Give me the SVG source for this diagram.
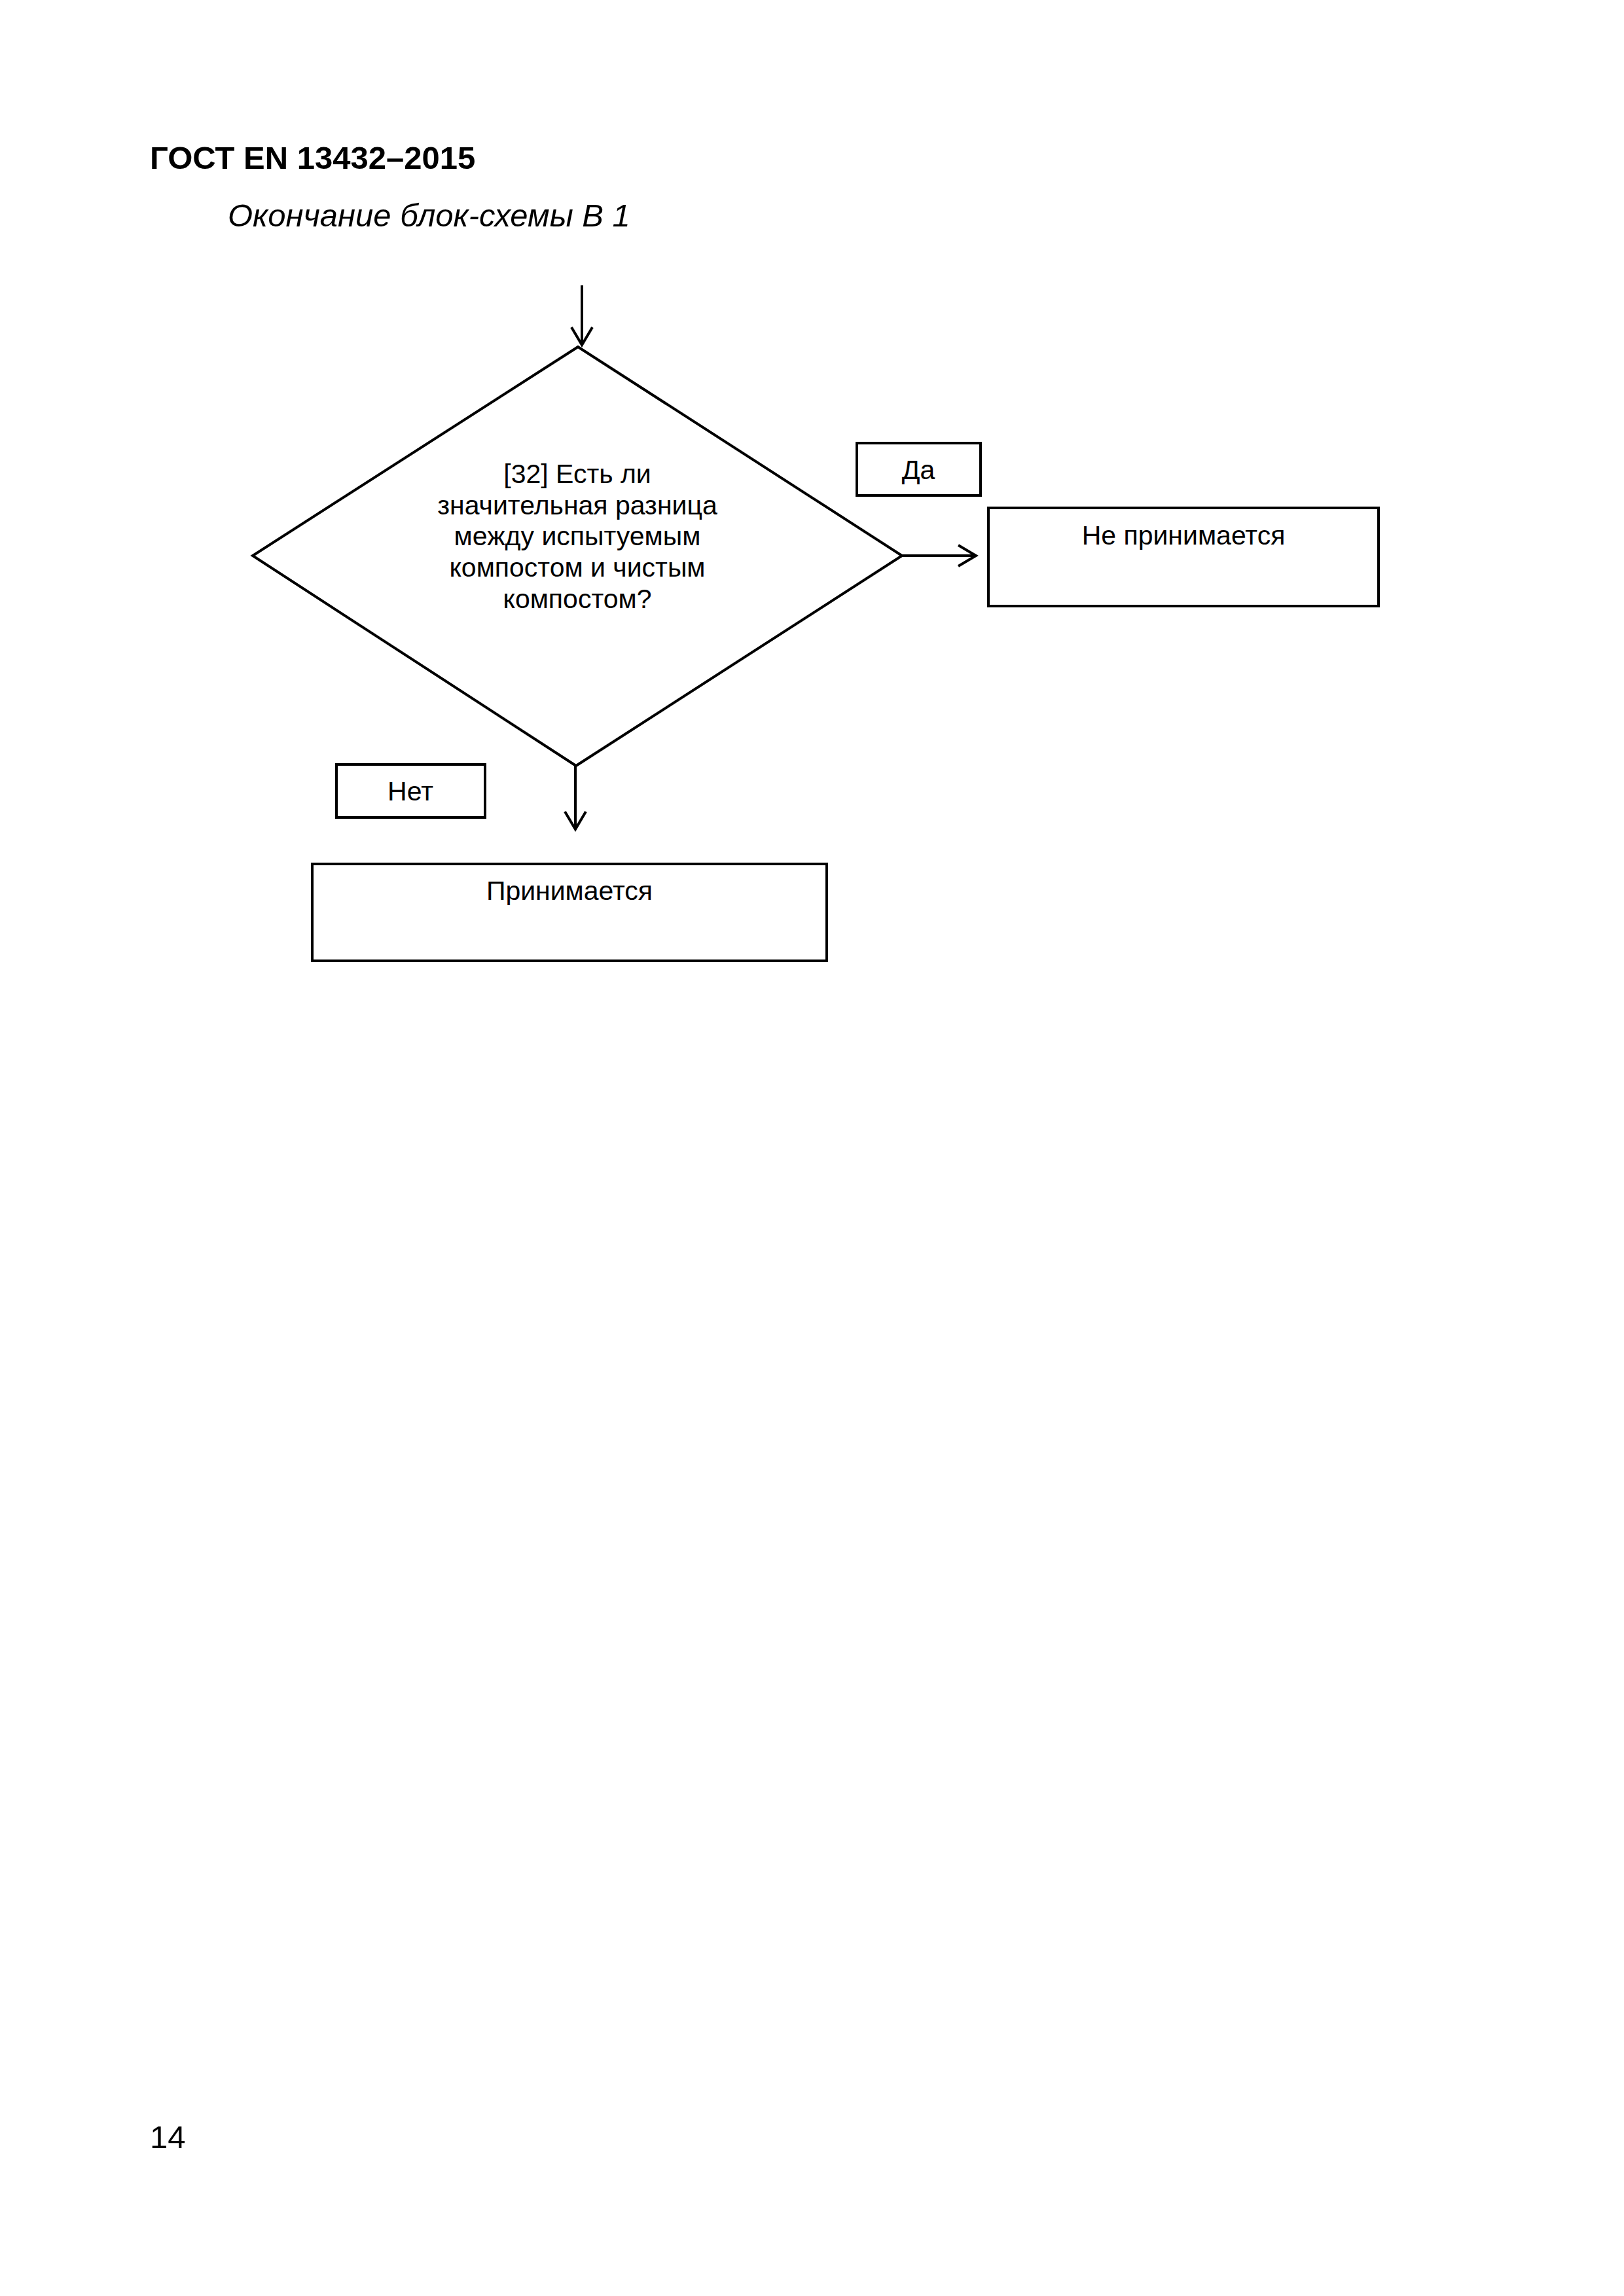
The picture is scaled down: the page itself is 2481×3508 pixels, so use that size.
<svg xmlns="http://www.w3.org/2000/svg" width="2481" height="3508" viewBox="0 0 2481 3508">
<defs>
<style>
.t{font-family:"Liberation Sans",Arial,sans-serif;fill:#000}
.n{font-size:41px;text-anchor:middle}
.box{fill:#fff;stroke:#000;stroke-width:4}
.dia{fill:#fff;stroke:#000;stroke-width:4;stroke-linejoin:miter}
.edge{fill:none;stroke:#000;stroke-width:4}
</style>
<marker id="arr" markerUnits="userSpaceOnUse" viewBox="0 0 30 34" refX="28" refY="17" markerWidth="30" markerHeight="34" orient="auto" overflow="visible">
<path d="M1,1 L28,17 L1,33" fill="none" stroke="#000" stroke-width="4"/>
</marker>
</defs>
<rect width="2481" height="3508" fill="#fff"/>
<text class="t" x="229" y="258" font-size="49" font-weight="bold">ГОСТ EN 13432–2015</text>
<text class="t" x="348" y="346" font-size="49" font-style="italic">Окончание блок-схемы В 1</text>

<g id="connectors">
<line class="edge" x1="889" y1="436" x2="889" y2="527" marker-end="url(#arr)"/>
<line class="edge" x1="1378" y1="849" x2="1491" y2="849" marker-end="url(#arr)"/>
<line class="edge" x1="879" y1="1170" x2="879" y2="1267" marker-end="url(#arr)"/>
</g>

<g id="decision32">
<polygon class="dia" points="883,530 1378,849 880,1170 386,849"/>
<text class="t n" x="882" y="738">[32] Есть ли</text>
<text class="t n" x="882" y="786">значительная разница</text>
<text class="t n" x="882" y="833">между испытуемым</text>
<text class="t n" x="882" y="881">компостом и чистым</text>
<text class="t n" x="882" y="929">компостом?</text>
</g>

<g id="label-yes">
<rect class="box" x="1309" y="677" width="189" height="80"/>
<text class="t n" x="1403" y="732">Да</text>
</g>

<g id="rejected">
<rect class="box" x="1510" y="776" width="596" height="150"/>
<text class="t n" x="1808" y="832">Не принимается</text>
</g>

<g id="label-no">
<rect class="box" x="514" y="1168" width="227" height="81"/>
<text class="t n" x="627" y="1223">Нет</text>
</g>

<g id="accepted">
<rect class="box" x="477" y="1320" width="786" height="148"/>
<text class="t n" x="870" y="1375">Принимается</text>
</g>

<text class="t" x="229" y="3282" font-size="49">14</text>
</svg>
